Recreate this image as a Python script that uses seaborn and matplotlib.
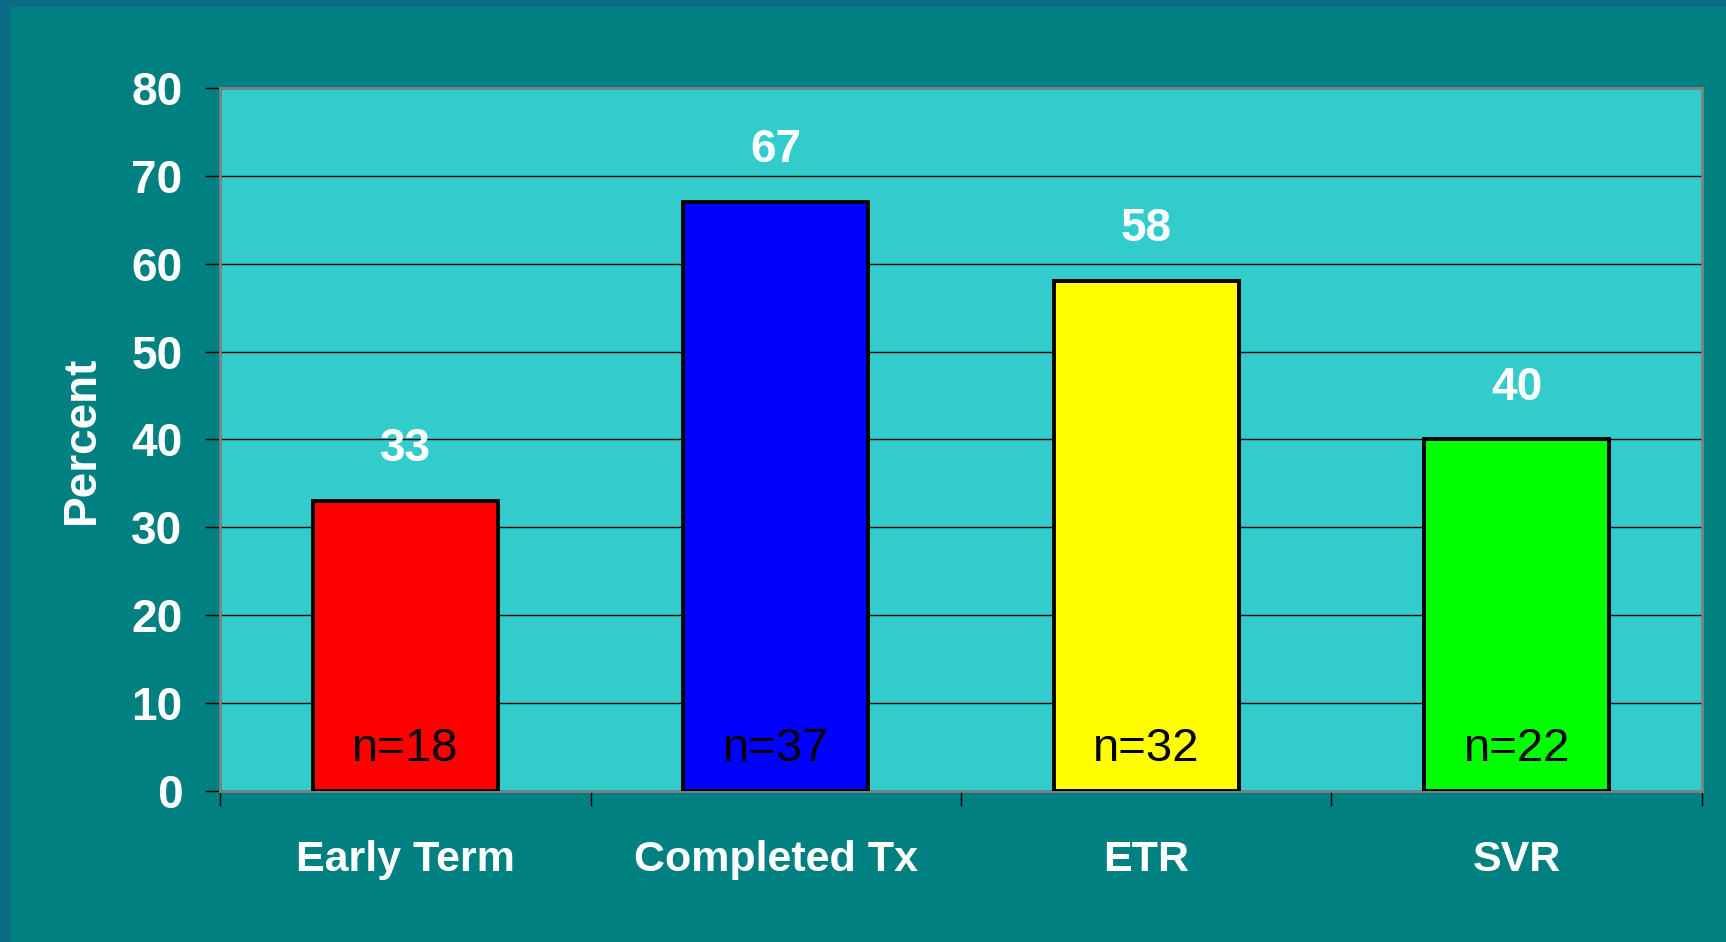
import numpy as np
import pandas as pd
import seaborn as sns
import matplotlib.pyplot as plt
from matplotlib.patches import Rectangle

categories = ['Early Term', 'Completed Tx', 'ETR', 'SVR']
percent = [33, 67, 58, 40]
n_labels = ['n=18', 'n=37', 'n=32', 'n=22']
bar_colors = ['#FF0000', '#0000FF', '#FFFF00', '#00FF00']
y_ticks = [0, 10, 20, 30, 40, 50, 60, 70, 80]

df = pd.DataFrame({'category': categories, 'percent': percent})

sns.set_style('white')
plt.rcParams['font.family'] = ['Liberation Sans', 'DejaVu Sans']

fig = plt.figure(figsize=(17.26, 9.42), dpi=100)
fig.patch.set_facecolor('#0D6A86')
# teal slide panel, leaving a thin darker band on top and left
fig.add_artist(Rectangle((10 / 1726, 0), 1, 1 - 7 / 942, transform=fig.transFigure,
                         facecolor='#008080', edgecolor='none', zorder=-10))

ax = fig.add_axes([0.1275, 0.1603, 0.986 - 0.1275, 0.9066 - 0.1603])
ax.set_zorder(1)
ax.set_facecolor('#33CCCC')

sns.barplot(data=df, x='category', y='percent', hue='category', palette=bar_colors,
            legend=False, width=0.5, edgecolor='black', linewidth=2.8, saturation=1,
            ax=ax, zorder=3)

ax.set_ylim(0, 80)
ax.set_xlim(-0.5, 3.5)
ax.set_yticks(y_ticks)
ax.yaxis.grid(True, color='black', linewidth=1.0, zorder=1)
ax.set_axisbelow(True)

for spine in ax.spines.values():
    spine.set_color('#808080')
    spine.set_linewidth(2)

# ticks between categories, labels centred under bars
ax.set_xticks(np.arange(-0.5, 4, 1))
ax.set_xticklabels([])
ax.set_xticks(range(len(categories)), categories, minor=True)
ax.tick_params(axis='x', which='major', direction='out', length=11, width=1, color='black', bottom=True)
ax.tick_params(axis='x', which='minor', length=0, pad=35, labelsize=31, labelcolor='white')
ax.tick_params(axis='y', direction='out', length=11, width=1, color='black', left=True,
               pad=16, labelsize=33, labelcolor='white')
for lbl in ax.get_xticklabels(minor=True) + ax.get_yticklabels():
    lbl.set_fontweight('bold')

ax.set_xlabel('')
ax.set_ylabel('Percent', fontsize=33, fontweight='bold', color='white', labelpad=20)

for i, (v, n) in enumerate(zip(percent, n_labels)):
    ax.text(i, v + 5.9, str(v), ha='center', va='center', fontsize=33,
            fontweight='bold', color='white')
    ax.text(i, 4.8, n, ha='center', va='center', fontsize=34, color='black', zorder=4)

fig.savefig('out.png', dpi=100, facecolor=fig.get_facecolor())
